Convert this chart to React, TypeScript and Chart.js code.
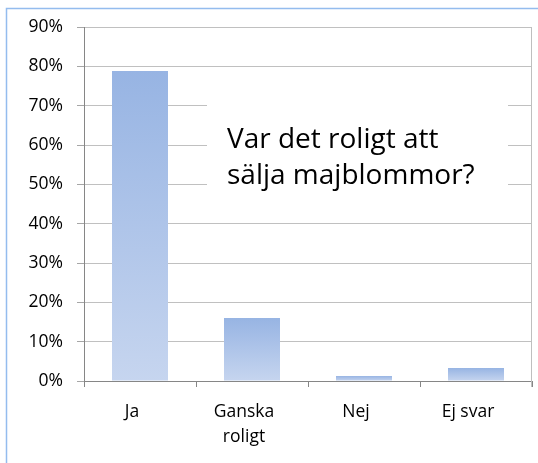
import React, { useEffect, useRef } from 'react';
import { Chart, registerables } from 'chart.js';

Chart.register(...registerables);

const categories: (string | string[])[] = ['Ja', ['Ganska', 'roligt'], 'Nej', 'Ej svar'];
const values = [78.8, 16.0, 1.3, 3.3];
const yMin = 0;
const yMax = 90;
const yStep = 10;
const titleLines = ['Var det roligt att', 'sälja majblommor?'];

const FONT = "'Open Sans', 'Noto Sans', sans-serif";

const decorPlugin = {
  id: 'decor',
  beforeDraw(chart: any) {
    const { ctx, width, height } = chart;
    ctx.save();
    ctx.fillStyle = '#ffffff';
    ctx.fillRect(0, 0, width, height);
    ctx.strokeStyle = '#94bcee';
    ctx.lineWidth = 1.5;
    ctx.beginPath();
    ctx.moveTo(6.5, height);
    ctx.lineTo(6.5, 8.5);
    ctx.lineTo(width, 8.5);
    ctx.stroke();
    ctx.restore();
  },
  afterDraw(chart: any) {
    const { ctx, chartArea } = chart;
    ctx.save();
    // right edge of plot area
    ctx.strokeStyle = '#bfbfbf';
    ctx.lineWidth = 1;
    ctx.beginPath();
    ctx.moveTo(Math.round(chartArea.right) - 0.5, chartArea.top);
    ctx.lineTo(Math.round(chartArea.right) - 0.5, chartArea.bottom + 6);
    ctx.stroke();
    // title box
    ctx.fillStyle = '#ffffff';
    ctx.fillRect(207, 90, 301, 125);
    ctx.fillStyle = '#000000';
    ctx.font = `28px ${FONT}`;
    ctx.textBaseline = 'alphabetic';
    ctx.textAlign = 'left';
    ctx.fillText(titleLines[0], 227, 148);
    ctx.fillText(titleLines[1], 227, 184);
    ctx.restore();
  },
};

export default function App() {
  const ref = useRef<HTMLCanvasElement | null>(null);

  useEffect(() => {
    document.body.style.margin = '0';
    const canvas = ref.current;
    if (!canvas) return;
    const chart = new Chart(canvas, {
      type: 'bar',
      data: {
        labels: categories as any,
        datasets: [
          {
            data: values,
            barPercentage: 0.5,
            categoryPercentage: 1,
            backgroundColor: (c: any) => {
              const ch = c.chart;
              if (!ch.chartArea || c.type !== 'data') return '#a9bfe8';
              const ys = ch.scales.y;
              const top = ys.getPixelForValue(c.parsed.y);
              const base = ys.getPixelForValue(0);
              const g = ch.ctx.createLinearGradient(0, top, 0, base);
              g.addColorStop(0, '#97b4e3');
              g.addColorStop(1, '#c6d5ef');
              return g;
            },
            borderWidth: 0,
          },
        ],
      },
      options: {
        responsive: false,
        animation: false,
        layout: { padding: { left: 0, right: 6, top: 27, bottom: 0 } },
        plugins: {
          legend: { display: false },
          tooltip: { enabled: false },
          title: { display: false },
        },
        scales: {
          x: {
            grid: {
              drawOnChartArea: false,
              offset: true,
              tickLength: 6,
              color: '#868686',
            },
            border: { color: '#868686' },
            ticks: {
              color: '#000000',
              font: { family: FONT, size: 17.5, lineHeight: 1.45 },
              padding: 12,
              labelOffset: -8,
              maxRotation: 0,
            },
            afterFit: (s: any) => {
              s.height = 82;
            },
          },
          y: {
            min: yMin,
            max: yMax,
            ticks: {
              stepSize: yStep,
              color: '#000000',
              font: { family: FONT, size: 17.5 },
              padding: 14,
              callback: (v: any) => `${v}%`,
            },
            grid: {
              color: '#c0c0c0',
              tickLength: 7,
              tickColor: '#a6a6a6',
            },
            border: { color: '#868686' },
            afterFit: (s: any) => {
              s.width = 84;
            },
          },
        },
      },
      plugins: [decorPlugin],
    });
    return () => chart.destroy();
  }, []);

  return (
    <div style={{ width: 538, height: 463 }}>
      <canvas ref={ref} width={538} height={463} />
    </div>
  );
}
